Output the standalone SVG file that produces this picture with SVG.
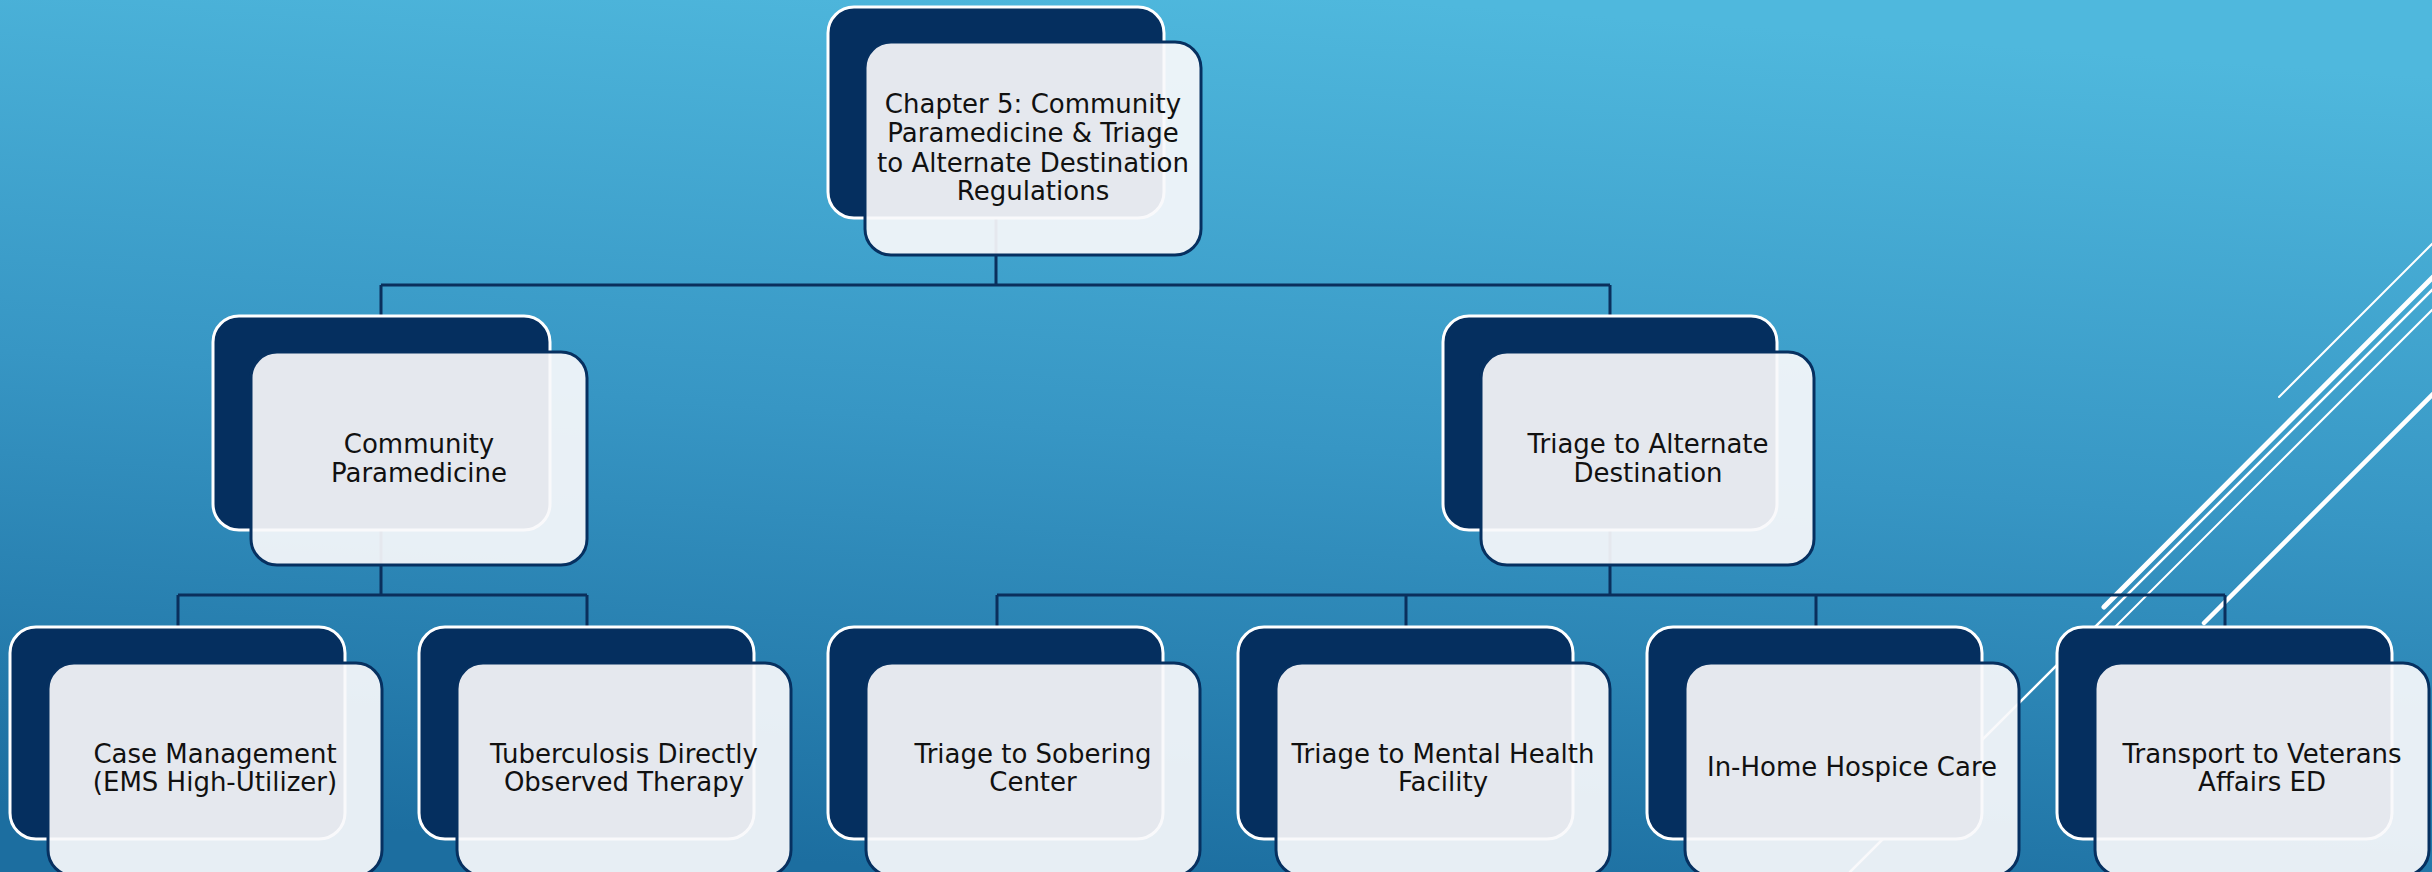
<svg xmlns="http://www.w3.org/2000/svg" width="2432" height="872" viewBox="0 0 2432 872">
<defs>
<linearGradient id="bg" gradientUnits="userSpaceOnUse" x1="1250" y1="-10" x2="1184" y2="890">
<stop offset="0" stop-color="#4fb8dd"/>
<stop offset="0.5" stop-color="#3796c4"/>
<stop offset="1" stop-color="#1c6ea0"/>
</linearGradient>
<style>
.back{fill:#052f5f;stroke:#ffffff;stroke-width:3}
.front{fill:#f8f9fb;fill-opacity:0.92;stroke:#063060;stroke-width:3}
.lbl{font-family:"DejaVu Sans","Liberation Sans",sans-serif;font-size:26px;fill:#111111;text-anchor:middle}
.con{stroke:#0a2f5c;stroke-width:3;fill:none}
.deco{stroke:#ffffff;fill:none;stroke-linecap:round}
</style>
</defs>
<rect x="0" y="0" width="2432" height="872" fill="url(#bg)"/>
<g id="decoration">
<line class="deco" x1="2279" y1="397" x2="2450" y2="226" stroke-width="2"/>
<line class="deco" x1="2104" y1="607" x2="2450" y2="260" stroke-width="5"/>
<line class="deco" x1="1850" y1="872" x2="2450" y2="272" stroke-width="2.5"/>
<line class="deco" x1="2100" y1="642" x2="2450" y2="292" stroke-width="2"/>
<line class="deco" x1="2204" y1="623" x2="2450" y2="377" stroke-width="4.5"/>
</g>
<g id="connectors">
<path class="con" d="M996 218V285M381 285H1610M381 285V316M1610 285V316"/>
<path class="con" d="M381 530V595M178 595H587M178 595V627M587 595V627"/>
<path class="con" d="M1610 530V595M997 595H2225M997 595V627M1406 595V627M1816 595V627M2225 595V627"/>
</g>
<g id="n-root">
<rect class="back" x="828" y="7" width="336" height="211" rx="26"/>
<rect class="front" x="865" y="42" width="336" height="213" rx="26"/>
<text class="lbl" x="1033" y="113">Chapter 5: Community</text>
<text class="lbl" x="1033" y="142">Paramedicine &amp; Triage</text>
<text class="lbl" x="1033" y="172">to Alternate Destination</text>
<text class="lbl" x="1033" y="200">Regulations</text>
</g>
<g id="n-cp">
<rect class="back" x="213" y="316" width="337" height="214" rx="26"/>
<rect class="front" x="251" y="352" width="336" height="213" rx="26"/>
<text class="lbl" x="419" y="453">Community</text>
<text class="lbl" x="419" y="482">Paramedicine</text>
</g>
<g id="n-tad">
<rect class="back" x="1443" y="316" width="334" height="214" rx="26"/>
<rect class="front" x="1481" y="352" width="333" height="213" rx="26"/>
<text class="lbl" x="1648" y="453">Triage to Alternate</text>
<text class="lbl" x="1648" y="482">Destination</text>
</g>
<g id="n-case">
<rect class="back" x="10" y="627" width="335" height="212" rx="26"/>
<rect class="front" x="48" y="663" width="334" height="213" rx="26"/>
<text class="lbl" x="215" y="763">Case Management</text>
<text class="lbl" x="215" y="791">(EMS High-Utilizer)</text>
</g>
<g id="n-tb">
<rect class="back" x="419" y="627" width="335" height="212" rx="26"/>
<rect class="front" x="457" y="663" width="334" height="213" rx="26"/>
<text class="lbl" x="624" y="763">Tuberculosis Directly</text>
<text class="lbl" x="624" y="791">Observed Therapy</text>
</g>
<g id="n-sober">
<rect class="back" x="828" y="627" width="335" height="212" rx="26"/>
<rect class="front" x="866" y="663" width="334" height="213" rx="26"/>
<text class="lbl" x="1033" y="763">Triage to Sobering</text>
<text class="lbl" x="1033" y="791">Center</text>
</g>
<g id="n-mental">
<rect class="back" x="1238" y="627" width="335" height="212" rx="26"/>
<rect class="front" x="1276" y="663" width="334" height="213" rx="26"/>
<text class="lbl" x="1443" y="763">Triage to Mental Health</text>
<text class="lbl" x="1443" y="791">Facility</text>
</g>
<g id="n-hospice">
<rect class="back" x="1647" y="627" width="335" height="212" rx="26"/>
<rect class="front" x="1685" y="663" width="334" height="213" rx="26"/>
<text class="lbl" x="1852" y="776">In-Home Hospice Care</text>
</g>
<g id="n-va">
<rect class="back" x="2057" y="627" width="335" height="212" rx="26"/>
<rect class="front" x="2095" y="663" width="334" height="213" rx="26"/>
<text class="lbl" x="2262" y="763">Transport to Veterans</text>
<text class="lbl" x="2262" y="791">Affairs ED</text>
</g>
</svg>
